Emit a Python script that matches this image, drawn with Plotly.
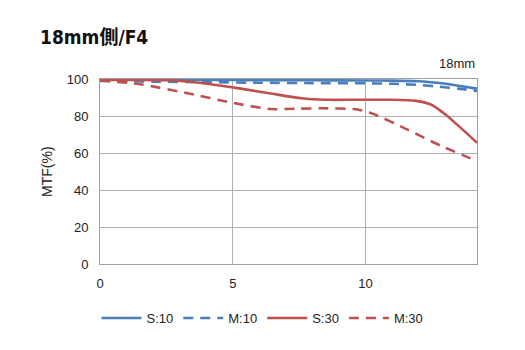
import plotly.graph_objects as go

# Image height (mm) positions for each series
x_s10 = [0, 2, 4, 6, 8, 10, 11, 12, 12.8, 13.5, 14.2]
s10 = [99.6, 99.6, 99.5, 99.4, 99.3, 99.2, 99.1, 98.8, 97.8, 96.4, 94.8]

x_m10 = [0, 2, 4, 6, 8, 10, 11, 12, 12.8, 13.5, 14.2]
m10 = [99.0, 98.6, 98.3, 98.0, 97.8, 97.7, 97.4, 96.8, 95.8, 94.8, 93.6]

x_s30 = [0, 1.5, 2.7, 3.8, 5.3, 6.5, 7.6, 8.5, 9.7, 11.0, 11.9, 12.5, 13.0, 13.6, 14.2]
s30 = [99.5, 99.5, 99.3, 97.8, 94.8, 92.0, 89.6, 88.8, 88.8, 88.8, 88.2, 86.0, 81.0, 73.5, 65.6]

x_m30 = [0, 1.5, 3.4, 4.9, 6.4, 7.5, 8.4, 9.7, 10.3, 11.6, 12.8, 14.2]
m30 = [99.2, 97.2, 92.0, 87.4, 83.8, 84.0, 84.2, 83.6, 81.2, 72.6, 64.2, 55.8]

BLUE = "#4a7ebb"
RED = "#c0504d"

series = [
    ("S:10", x_s10, s10, BLUE, "solid"),
    ("M:10", x_m10, m10, BLUE, "10px,7px"),
    ("S:30", x_s30, s30, RED, "solid"),
    ("M:30", x_m30, m30, RED, "10px,7px"),
]

fig = go.Figure()
for name, xs, ys, color, dash in series:
    fig.add_trace(go.Scatter(
        x=xs, y=ys, name=name, mode="lines",
        line=dict(color=color, width=2.6, dash=dash, shape="spline", smoothing=0.6),
    ))

font_main = "Liberation Sans, Noto Sans, sans-serif"

fig.update_layout(
    width=525, height=350,
    margin=dict(l=100, r=48, t=79, b=84),
    paper_bgcolor="white", plot_bgcolor="white",
    font=dict(family=font_main, size=13, color="#222222"),
    title=dict(
        text="<b>18mm側/F4</b>",
        font=dict(family="DejaVu Sans Condensed, Noto Sans CJK JP", size=19, color="#111111"),
        x=40 / 525, xanchor="left", xref="container",
        y=1 - 37 / 350, yanchor="middle", yref="container",
    ),
    xaxis=dict(
        range=[0, 14.2], tickvals=[0, 5, 10], ticks="",
        showgrid=True, gridcolor="#b0b0b0", gridwidth=1,
        showline=True, linecolor="#a0a0a0", linewidth=1, mirror=True,
        zeroline=False, ticklabelstandoff=7,
        tickfont=dict(size=13, color="#222222"),
    ),
    yaxis=dict(
        range=[0, 100], tickvals=[0, 20, 40, 60, 80, 100], ticks="",
        showgrid=True, gridcolor="#b0b0b0", gridwidth=1,
        showline=True, linecolor="#a0a0a0", linewidth=1, mirror=True,
        zeroline=False, ticklabelstandoff=8,
        title=dict(text="MTF(%)", font=dict(size=14, color="#222222"), standoff=10),
        tickfont=dict(size=13, color="#222222"),
    ),
    legend=dict(
        orientation="h", x=0.5, xanchor="center", xref="container",
        y=1 - 318 / 350, yanchor="middle", yref="container",
        font=dict(size=13, color="#222222"),
        itemwidth=40, tracegroupgap=0,
    ),
    showlegend=True,
    annotations=[dict(
        text="18mm", xref="paper", yref="paper", x=1.0, y=1.0,
        xanchor="right", yanchor="bottom", yshift=6, showarrow=False,
        font=dict(size=13, color="#222222"),
    )],
)

fig.write_html("out.html")
